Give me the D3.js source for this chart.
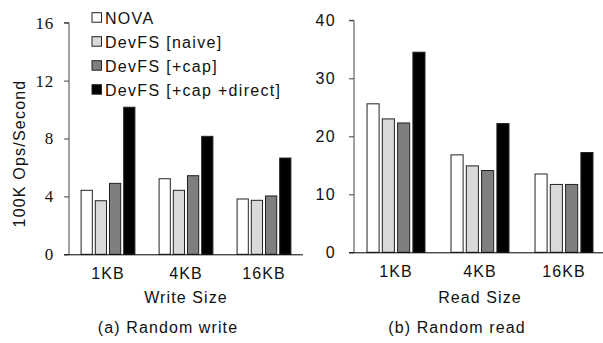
<!DOCTYPE html>
<html><head><meta charset="utf-8">
<script src="https://cdn.jsdelivr.net/npm/d3@7"></script>
<style>body{margin:0;background:#fff}svg{display:block}</style>
</head><body>
<script>
const categories = ["1KB", "4KB", "16KB"];
const seriesNames = ["NOVA", "DevFS [naive]", "DevFS [+cap]", "DevFS [+cap +direct]"];
const writeNova = [4.42, 5.22, 3.82];
const writeNaive = [3.70, 4.42, 3.73];
const writeCap = [4.90, 5.43, 4.03];
const writeDirect = [10.16, 8.15, 6.65];
const readNova = [25.6, 16.8, 13.5];
const readNaive = [23.0, 14.9, 11.7];
const readCap = [22.3, 14.1, 11.7];
const readDirect = [34.5, 22.2, 17.2];
const writeTicks = [0, 4, 8, 12, 16];
const readTicks = [0, 10, 20, 30, 40];
const colors = ["#ffffff", "#d9d9d9", "#7f7f7f", "#000000"];

const W = 603, H = 343;
const svg = d3.select("body").append("svg").attr("width", W).attr("height", H);
const sans = "Liberation Sans, Arial, Helvetica, sans-serif";
const serif = "Liberation Serif, Times New Roman, serif";

function panel(opts) {
  const {x0, x1, y0, y1, maxV, ticks, vals, xTitle, caption, capX, tickFont, tickSize, labelGap} = opts;
  const g = svg.append("g");
  const x = d3.scaleBand().domain(categories).range([x0, x1]).paddingInner(0.31).paddingOuter(0.155);
  const xs = d3.scaleBand().domain(d3.range(seriesNames.length)).range([0, x.bandwidth()]).paddingInner(0.21);
  const y = d3.scaleLinear().domain([0, maxV]).range([y0, y1]);

  // bars
  categories.forEach((c, ci) => {
    vals.forEach((arr, si) => {
      g.append("rect")
        .attr("x", x(c) + xs(si))
        .attr("y", y(arr[ci]))
        .attr("width", xs.bandwidth())
        .attr("height", y(0) - y(arr[ci]))
        .attr("fill", colors[si])
        .attr("stroke", "#222")
        .attr("stroke-width", 1);
    });
  });

  // y axis
  const ya = d3.axisLeft(y).tickValues(ticks).tickSize(5).tickPadding(labelGap).tickFormat(d3.format("d"));
  const yg = g.append("g").attr("transform", `translate(${x0},0)`).call(ya);
  yg.select(".domain").attr("stroke", "#444").attr("d", `M-5,${y(maxV)}H0V${y(0)}`);
  yg.selectAll(".tick line").attr("stroke", "#444");
  yg.selectAll(".tick text").attr("font-family", tickFont).attr("font-size", tickSize)
    .attr("fill", "#111").attr("letter-spacing", tickFont === serif ? "0.8px" : "1.3px");

  // x axis baseline
  const xa = d3.axisBottom(x).tickSize(0).tickPadding(13);
  const xg = g.append("g").attr("transform", `translate(0,${y(0)})`).call(xa);
  xg.select(".domain").attr("stroke", "#000").attr("d", `M${x0 - 5},0.5H${x1}`);
  xg.selectAll(".tick text").attr("font-family", sans).attr("font-size", 16)
    .attr("fill", "#111").attr("letter-spacing", "1.1px");

  g.append("text").attr("x", (x0 + x1) / 2).attr("y", 302.7).attr("text-anchor", "middle")
    .attr("font-family", sans).attr("font-size", 16).attr("letter-spacing", "1.1px").attr("fill", "#111").text(xTitle);
  g.append("text").attr("x", capX).attr("y", 332.5).attr("text-anchor", "middle")
    .attr("font-family", sans).attr("font-size", 16).attr("letter-spacing", "1.1px").attr("fill", "#111").text(caption);
}

panel({x0: 69, x1: 303, y0: 254.3, y1: 22.7, maxV: 16, ticks: writeTicks,
  vals: [writeNova, writeNaive, writeCap, writeDirect], xTitle: "Write Size",
  caption: "(a) Random write", capX: 168, tickFont: serif, tickSize: 17, labelGap: 10});
panel({x0: 354, x1: 606, y0: 252.3, y1: 20.3, maxV: 40, ticks: readTicks,
  vals: [readNova, readNaive, readCap, readDirect], xTitle: "Read Size",
  caption: "(b) Random read", capX: 457, tickFont: sans, tickSize: 16, labelGap: 13});

// y title
svg.append("text").attr("transform", "translate(25,153.5) rotate(-90)").attr("text-anchor", "middle")
  .attr("font-family", sans).attr("font-size", 16).attr("letter-spacing", "1.2px").attr("fill", "#111")
  .text("100K Ops/Second");

// legend
const leg = svg.append("g");
seriesNames.forEach((s, i) => {
  const yy = 12.7 + i * 24;
  leg.append("rect").attr("x", 92).attr("y", yy).attr("width", 9.5).attr("height", 9.5)
    .attr("fill", colors[i]).attr("stroke", "#222").attr("stroke-width", 1);
  leg.append("text").attr("x", 105).attr("y", yy + 11.3).attr("font-family", sans).attr("font-size", 16)
    .attr("letter-spacing", "1.3px").attr("fill", "#111").text(s);
});
</script>
</body></html>
